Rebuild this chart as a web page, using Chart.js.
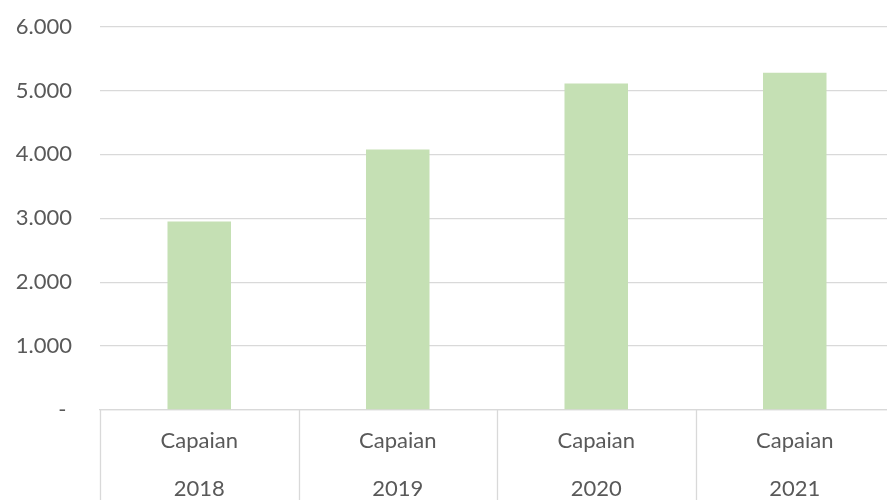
<!DOCTYPE html>
<html>
<head>
<meta charset="utf-8">
<script src="https://cdn.jsdelivr.net/npm/chart.js@4"></script>
<style>
  html, body { margin: 0; padding: 0; overflow: hidden; background: #fff; }
  #wrap { width: 894px; height: 520px; position: relative; }
</style>
</head>
<body>
<div id="wrap"><canvas id="c"></canvas></div>
<script>
const years = ['2018', '2019', '2020', '2021'];
const categoryPrefix = 'Capaian';
const values = [2950, 4075, 5110, 5275];
const yTicks = [0, 1000, 2000, 3000, 4000, 5000, 6000];

const labels = years.map(y => [categoryPrefix, y]);
const textColor = '#595959';
const lineColor = '#d9d9d9';
const fontFamily = 'Lato, "Open Sans", sans-serif';

function fmt(v) {
  if (v === 0) return '- ';
  return String(v).replace(/\B(?=(\d{3})+(?!\d))/g, '.');
}

// Draws category separators below the axis (multi-level category axis look)
const separators = {
  id: 'separators',
  afterDraw(chart) {
    const xs = chart.scales.x;
    const ctx = chart.ctx;
    const n = xs.ticks.length;
    if (!n) return;
    const step = n > 1 ? xs.getPixelForTick(1) - xs.getPixelForTick(0) : xs.width;
    ctx.save();
    ctx.strokeStyle = lineColor;
    ctx.lineWidth = 1.3;
    ctx.beginPath();
    for (let i = 0; i <= n; i++) {
      const x = Math.round(xs.getPixelForTick(0) - step / 2 + i * step) + 0.5;
      ctx.moveTo(x, xs.top);
      ctx.lineTo(x, chart.height);
    }
    ctx.stroke();
    ctx.restore();
  }
};

new Chart(document.getElementById('c'), {
  type: 'bar',
  data: {
    labels: labels,
    datasets: [{
      data: values,
      backgroundColor: '#C5E0B4',
      borderWidth: 0,
      barPercentage: 0.32,
      categoryPercentage: 1
    }]
  },
  plugins: [separators],
  options: {
    responsive: true,
    maintainAspectRatio: false,
    animation: false,
    layout: { padding: { top: 26.5, left: 0, right: 0, bottom: 0 } },
    plugins: { legend: { display: false }, tooltip: { enabled: false } },
    scales: {
      x: {
        offset: true,
        grid: { display: false, drawTicks: false },
        border: { display: true, color: lineColor, width: 1.3 },
        ticks: {
          color: textColor,
          padding: 7,
          maxRotation: 0,
          autoSkip: false,
          font: { family: fontFamily, size: 22, lineHeight: '48px' }
        }
      },
      y: {
        min: 0,
        max: 6000,
        afterBuildTicks: (scale) => { scale.ticks = yTicks.map(v => ({ value: v })); },
        afterFit: (scale) => {
          scale.width = 100;
          scale.paddingTop = 13;
          scale.paddingBottom = 13;
        },
        grid: { color: lineColor, lineWidth: 1.3, drawTicks: false },
        border: { display: false },
        ticks: {
          color: textColor,
          padding: 28,
          font: { family: fontFamily, size: 22 },
          callback: (v) => fmt(v)
        }
      }
    }
  }
});
</script>
</body>
</html>
